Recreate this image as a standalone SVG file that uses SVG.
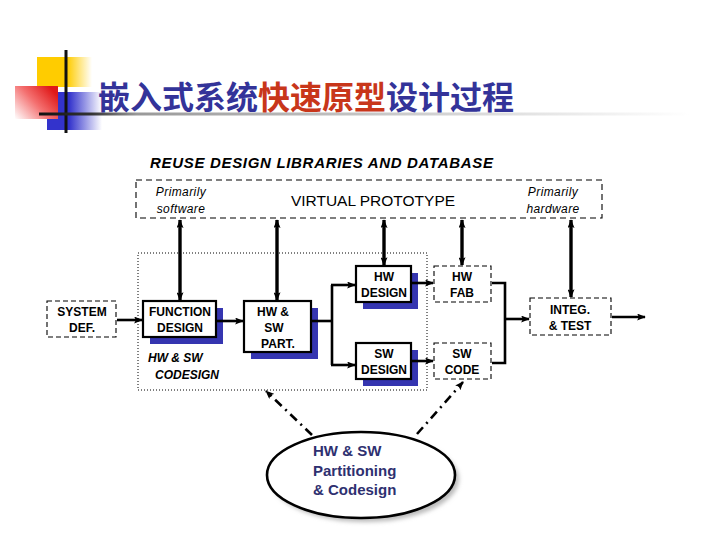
<svg xmlns="http://www.w3.org/2000/svg" width="720" height="540" viewBox="0 0 720 540">
<defs>
<linearGradient id="gYel" x1="0" y1="0" x2="1" y2="0">
<stop offset="0" stop-color="#FFCC00"/><stop offset="0.55" stop-color="#FFCC00"/><stop offset="1" stop-color="#FFCC00" stop-opacity="0"/>
</linearGradient>
<linearGradient id="gBlue" x1="0" y1="0" x2="1" y2="0">
<stop offset="0" stop-color="#3333CC"/><stop offset="0.4" stop-color="#3333CC"/><stop offset="1" stop-color="#3333CC" stop-opacity="0"/>
</linearGradient>
<linearGradient id="gRed" x1="0" y1="1" x2="1" y2="0.3">
<stop offset="0" stop-color="#FFFFFF"/><stop offset="0.55" stop-color="#F47070"/><stop offset="1" stop-color="#E01818"/>
</linearGradient>
<linearGradient id="gLine" x1="39" y1="0" x2="690" y2="0" gradientUnits="userSpaceOnUse">
<stop offset="0" stop-color="#111"/><stop offset="0.08" stop-color="#333"/><stop offset="0.15" stop-color="#999"/><stop offset="0.7" stop-color="#ddd"/><stop offset="1" stop-color="#fff"/>
</linearGradient>
<filter id="blur" x="-10%" y="-10%" width="120%" height="120%"><feGaussianBlur stdDeviation="2"/></filter>
<marker id="ah" viewBox="0 0 10 8" refX="9" refY="4" markerWidth="9" markerHeight="7" markerUnits="userSpaceOnUse" orient="auto-start-reverse">
<path d="M0,0 L10,4 L0,8 L2,4 z" fill="#000"/>
</marker>
</defs>
<style>
.lbl{font-family:"Liberation Sans",Arial,sans-serif;font-weight:bold;font-size:12px;fill:#000;text-anchor:middle}
.it{font-family:"Liberation Sans",Arial,sans-serif;font-style:italic;font-size:12px;fill:#000;text-anchor:middle}
.box{fill:#fff;stroke:#000;stroke-width:2.2}
.dbox{fill:#fff;stroke:#000;stroke-width:1.1;stroke-dasharray:5 3}
.sh{fill:#3535B0}
.conn{fill:none;stroke:#000;stroke-width:2.6}
.vconn{fill:none;stroke:#000;stroke-width:3.4}
.dd{fill:none;stroke:#000;stroke-width:2.6;stroke-dasharray:9 5 2 5}
</style>

<g id="decor">
<rect x="37" y="57" width="55" height="30" fill="url(#gYel)"/>
<rect x="47" y="92" width="55" height="38" fill="url(#gBlue)"/>
<rect x="15" y="86" width="43" height="33" fill="url(#gRed)"/>
<line x1="66" y1="50" x2="66" y2="133" stroke="#111" stroke-width="3"/>
<line x1="39" y1="114" x2="690" y2="114" stroke="url(#gLine)" stroke-width="3"/>
</g>

<g id="title">
<text x="98" y="109" font-family="'Noto Sans CJK SC',sans-serif" font-weight="bold" font-size="32" fill="#333399">嵌入式系统<tspan fill="#C8361A">快速原型</tspan>设计过程</text>
</g>

<g id="reuse">
<text x="150" y="168" font-family="'Liberation Sans',Arial,sans-serif" font-weight="bold" font-style="italic" font-size="15" fill="#000" textLength="343">REUSE DESIGN LIBRARIES AND DATABASE</text>
</g>

<g id="virtual-prototype">
<rect x="136" y="180" width="466" height="38" fill="#fff" stroke="#000" stroke-width="1.1" stroke-dasharray="6 4"/>
<text class="it" x="181" y="196" letter-spacing="0.4">Primarily</text>
<text class="it" x="181" y="213" letter-spacing="0.4">software</text>
<text x="373" y="206" font-family="'Liberation Sans',Arial,sans-serif" font-size="15.5" text-anchor="middle" fill="#000">VIRTUAL PROTOTYPE</text>
<text class="it" x="553" y="196" letter-spacing="0.4">Primarily</text>
<text class="it" x="553" y="213" letter-spacing="0.4">hardware</text>
</g>

<g id="codesign-area">
<rect x="138" y="253" width="289" height="137" fill="none" stroke="#000" stroke-width="1" stroke-dasharray="1 2"/>
<text x="148" y="362" font-family="'Liberation Sans',Arial,sans-serif" font-weight="bold" font-style="italic" font-size="12" fill="#000">HW &amp; SW</text>
<text x="155" y="379" font-family="'Liberation Sans',Arial,sans-serif" font-weight="bold" font-style="italic" font-size="12" fill="#000">CODESIGN</text>
</g>

<g id="system-def">
<rect class="dbox" x="47" y="301" width="69" height="36"/>
<text class="lbl" x="82" y="316">SYSTEM</text>
<text class="lbl" x="82" y="332">DEF.</text>
</g>

<g id="function-design">
<rect class="sh" x="150" y="308" width="73" height="36"/>
<rect class="box" x="143" y="301" width="73" height="36"/>
<text class="lbl" x="180" y="316">FUNCTION</text>
<text class="lbl" x="180" y="332">DESIGN</text>
</g>

<g id="hw-sw-part">
<rect class="sh" x="251" y="308" width="67" height="51"/>
<rect class="box" x="244" y="301" width="67" height="51"/>
<text class="lbl" x="273" y="316">HW &amp;</text>
<text class="lbl" x="274" y="332">SW</text>
<text class="lbl" x="278" y="348">PART.</text>
</g>

<g id="hw-design">
<rect class="sh" x="363" y="273" width="55" height="36"/>
<rect class="box" x="356" y="266" width="55" height="36"/>
<text class="lbl" x="384" y="281">HW</text>
<text class="lbl" x="384" y="297">DESIGN</text>
</g>

<g id="sw-design">
<rect class="sh" x="363" y="350" width="55" height="36"/>
<rect class="box" x="356" y="343" width="55" height="36"/>
<text class="lbl" x="384" y="358">SW</text>
<text class="lbl" x="384" y="374">DESIGN</text>
</g>

<g id="hw-fab">
<rect class="dbox" x="434" y="266" width="57" height="36"/>
<text class="lbl" x="462" y="281">HW</text>
<text class="lbl" x="462" y="297">FAB</text>
</g>

<g id="sw-code">
<rect class="dbox" x="434" y="343" width="57" height="36"/>
<text class="lbl" x="462" y="358">SW</text>
<text class="lbl" x="462" y="374">CODE</text>
</g>

<g id="integ-test">
<rect class="dbox" x="530" y="298" width="81" height="37"/>
<text class="lbl" x="570" y="314">INTEG.</text>
<text class="lbl" x="570" y="330">&amp; TEST</text>
</g>

<g id="partitioning">
<ellipse cx="365" cy="479" rx="94" ry="43" fill="#bbb" filter="url(#blur)"/>
<ellipse cx="361" cy="475" rx="94" ry="43" fill="#fff" stroke="#000" stroke-width="2.6"/>
<text x="313" y="456" font-family="'Liberation Sans',Arial,sans-serif" font-weight="bold" font-size="15" fill="#2E3070">HW &amp; SW</text>
<text x="313" y="476" font-family="'Liberation Sans',Arial,sans-serif" font-weight="bold" font-size="15" fill="#2E3070">Partitioning</text>
<text x="313" y="495" font-family="'Liberation Sans',Arial,sans-serif" font-weight="bold" font-size="15" fill="#2E3070">&amp; Codesign</text>
</g>

<g id="connectors">
<path class="vconn" d="M180,220 V300" marker-start="url(#ah)" marker-end="url(#ah)"/>
<path class="vconn" d="M277,220 V300" marker-start="url(#ah)" marker-end="url(#ah)"/>
<path class="vconn" d="M384,220 V265" marker-start="url(#ah)" marker-end="url(#ah)"/>
<path class="vconn" d="M462,220 V265" marker-start="url(#ah)" marker-end="url(#ah)"/>
<path class="vconn" d="M571,220 V297" marker-start="url(#ah)" marker-end="url(#ah)"/>
<path class="conn" d="M117,320 H142" marker-end="url(#ah)"/>
<path class="conn" d="M217,321 H243" marker-end="url(#ah)"/>
<path class="conn" d="M312,321 H332"/>
<path class="conn" d="M332,285 V365"/>
<path class="conn" d="M331,285 H355" marker-end="url(#ah)"/>
<path class="conn" d="M331,365 H355" marker-end="url(#ah)"/>
<path class="conn" d="M412,283 H433" marker-end="url(#ah)"/>
<path class="conn" d="M412,361 H433" marker-end="url(#ah)"/>
<path class="conn" d="M492,283 H505 V363 H492"/>
<path class="conn" d="M505,319 H529" marker-end="url(#ah)"/>
<path class="conn" d="M612,317 H645" marker-end="url(#ah)"/>
<path class="dd" d="M312,435 L266,391" marker-end="url(#ah)"/>
<path class="dd" d="M417,434 L463,382" marker-end="url(#ah)"/>
</g>
</svg>
